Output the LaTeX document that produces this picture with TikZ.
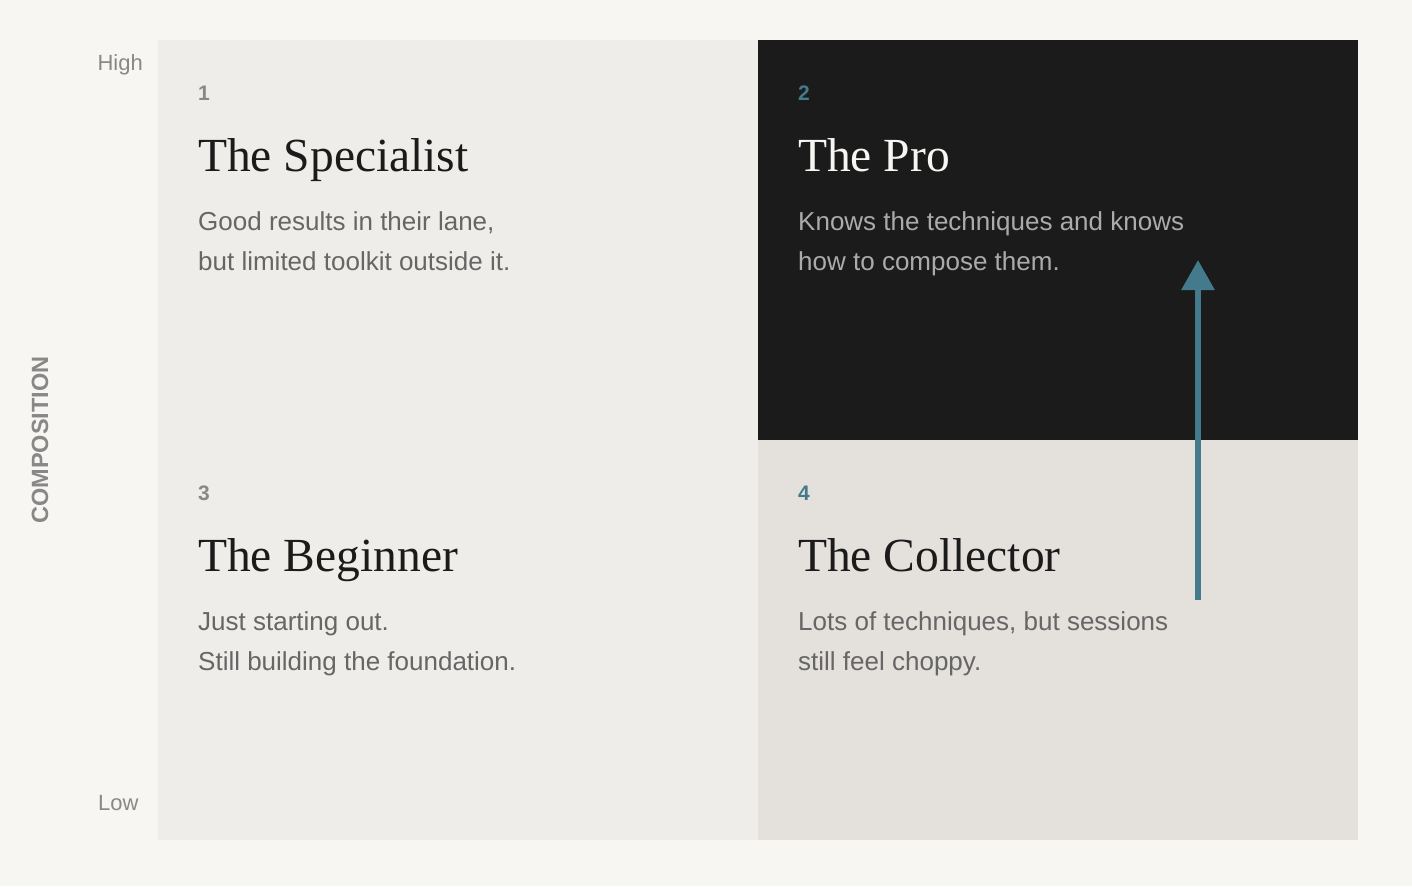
\documentclass[tikz,border=0pt]{standalone}
\usepackage{fontspec}
\setmainfont{Liberation Serif}
\setsansfont{Liberation Sans}
\usetikzlibrary{arrows.meta}
\definecolor{bg}{HTML}{F7F6F2}
\definecolor{qlight}{HTML}{EEEDE9}
\definecolor{qwarm}{HTML}{E4E1DC}
\definecolor{qdark}{HTML}{1B1B1B}
\definecolor{teal}{HTML}{437B8C}
\definecolor{axisgray}{HTML}{888888}
\definecolor{bodygray}{HTML}{666666}
\definecolor{bodylight}{HTML}{ABABAB}
\definecolor{titlelight}{HTML}{F7F6F2}
\tikzset{
  num/.style={anchor=base west, inner sep=0pt, font=\sffamily\bfseries\fontsize{21}{21}\selectfont},
  title/.style={anchor=base west, inner sep=0pt, font=\rmfamily\fontsize{47.5}{47.5}\selectfont},
  body/.style={anchor=base west, inner sep=0pt, align=left, font=\sffamily\fontsize{26}{40}\selectfont},
  axis/.style={inner sep=0pt, text=axisgray, font=\sffamily\fontsize{22}{22}\selectfont},
}
\begin{document}
\begin{tikzpicture}[x=1pt,y=-1pt]
\fill[bg] (0,0) rectangle (1412,886);
\useasboundingbox (0,0) rectangle (1412,886);
\fill[qlight] (158,40) rectangle (758,440);
\fill[qdark] (758,40) rectangle (1358,440);
\fill[qlight] (158,440) rectangle (758,840);
\fill[qwarm] (758,440) rectangle (1358,840);

\node[axis, anchor=base east] (high) at (143,70) {High};
\node[axis, anchor=base west] (low) at (98,810) {Low};
\node[inner sep=0pt, rotate=90, text=axisgray, font=\sffamily\bfseries\fontsize{23.5}{23.5}\selectfont] (comp) at (40,440) {COMPOSITION};

\node[num, text=axisgray] (n1) at (198,100) {1};
\node[title, text=qdark] (t1) at (198,171) {The Specialist};
\node[body, text=bodygray] (b1) at (198,270) {Good results in their lane,\\but limited toolkit outside it.};

\node[num, text=teal] (n2) at (798,100) {2};
\node[title, text=titlelight] (t2) at (798,171) {The Pro};
\node[body, text=bodylight] (b2) at (798,270) {Knows the techniques and knows\\how to compose them.};

\node[num, text=axisgray] (n3) at (198,500) {3};
\node[title, text=qdark] (t3) at (198,571) {The Beginner};
\node[body, text=bodygray] (b3) at (198,670) {Just starting out.\\Still building the foundation.};

\node[num, text=teal] (n4) at (798,500) {4};
\node[title, text=qdark] (t4) at (798,571) {The Collector};
\node[body, text=bodygray] (b4) at (798,670) {Lots of techniques, but sessions\\still feel choppy.};

\coordinate (astart) at (1198,600);
\coordinate (aend) at (1198,260);
\draw[teal, line width=6pt, -{Triangle[length=30pt,width=32pt]}] (astart) -- (aend);
\end{tikzpicture}
\end{document}
